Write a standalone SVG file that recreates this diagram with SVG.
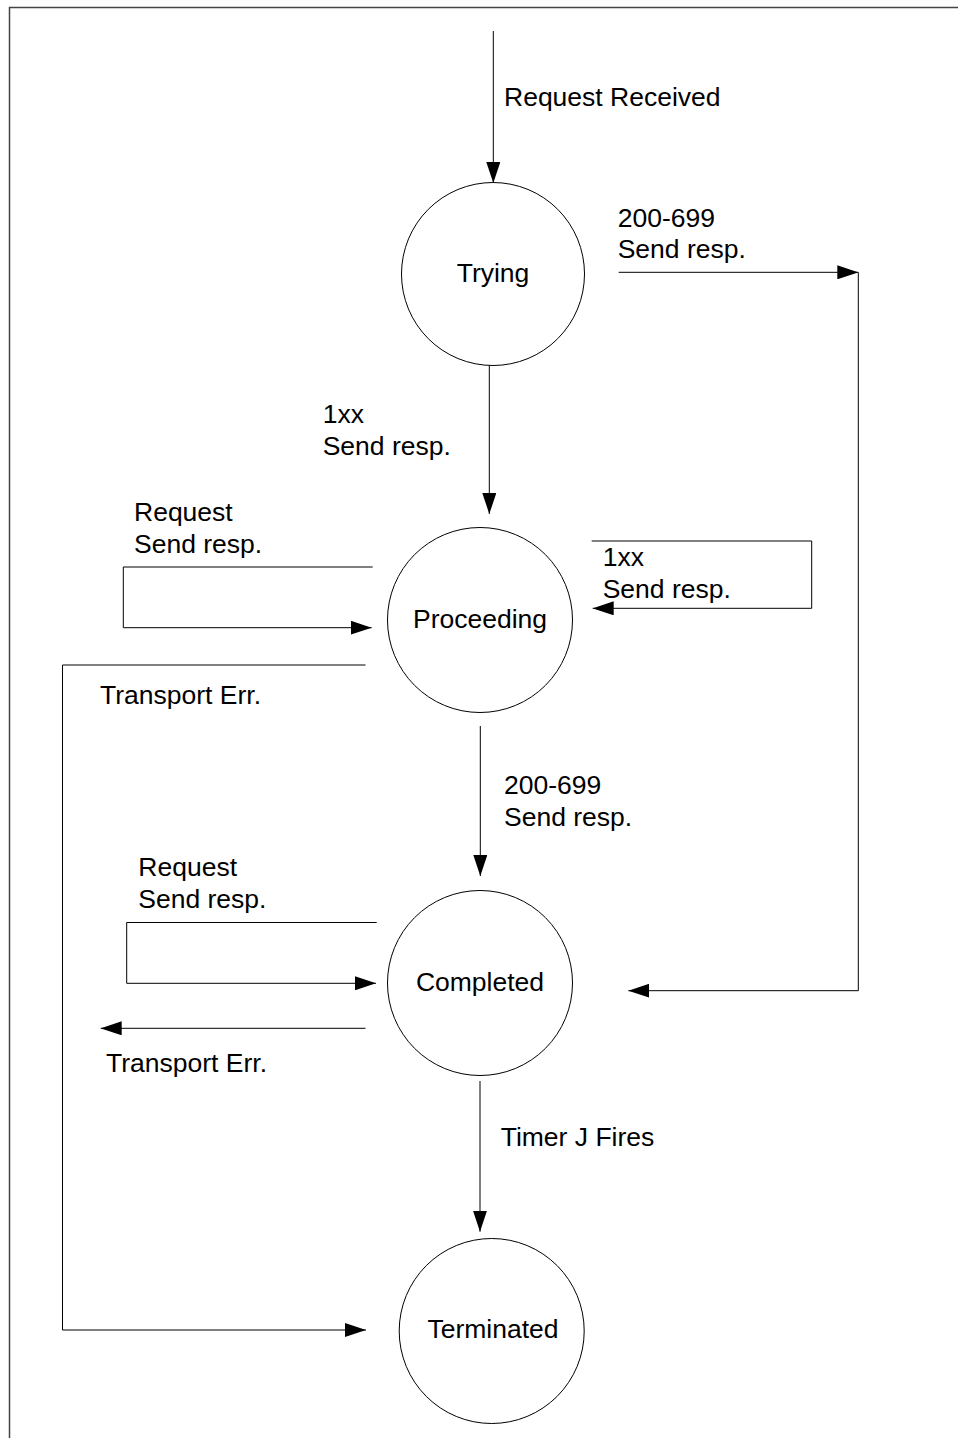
<svg xmlns="http://www.w3.org/2000/svg" width="958" height="1438" viewBox="0 0 958 1438">
  <style>
    .frame { fill: none; stroke: #444; stroke-width: 1.5; }
    .state { fill: #fff; stroke: #000; stroke-width: 1; }
    .edge { fill: none; stroke: #000; stroke-width: 1; }
    .arrow { marker-end: url(#head); }
    text { font-family: "Liberation Sans", Arial, sans-serif; font-size: 26.5px; fill: #000; }
    .name { text-anchor: middle; }
  </style>
  <defs>
    <marker id="head" markerUnits="userSpaceOnUse" markerWidth="21" markerHeight="14" refX="21" refY="7" orient="auto">
      <path d="M0,0 L21,7 L0,14 z" fill="#000"/>
    </marker>
  </defs>

  <rect width="958" height="1438" fill="#fff"/>

  <!-- page border (top and left edges) -->
  <path class="frame" d="M9.5,1438 V7.5 H958"/>

  <!-- state transitions -->
  <g id="connectors">
    <!-- entry -->
    <path class="edge arrow" d="M493.3,31 V183"/>
    <!-- Trying -> Completed (final response) -->
    <path class="edge arrow" d="M618.7,272.3 H858.3"/>
    <path class="edge arrow" d="M858.3,272.3 V990.7 H628.3"/>
    <!-- Trying -> Proceeding -->
    <path class="edge arrow" d="M489.3,365 V514"/>
    <!-- Proceeding self loops -->
    <path class="edge arrow" d="M591.7,541 H811.7 V608.3 H592.7"/>
    <path class="edge arrow" d="M372.7,567 H123.3 V627.7 H371.7"/>
    <!-- Proceeding -> Terminated (transport error) -->
    <path class="edge arrow" d="M365.5,665 H62.5 V1330 H366"/>
    <!-- Proceeding -> Completed -->
    <path class="edge arrow" d="M480.3,726 V876"/>
    <!-- Completed self loop -->
    <path class="edge arrow" d="M376.7,922.5 H126.7 V983.3 H376"/>
    <!-- Completed transport error -->
    <path class="edge arrow" d="M365.5,1028.3 H100.7"/>
    <!-- Completed -> Terminated -->
    <path class="edge arrow" d="M480,1081 V1231.7"/>

    <text x="504" y="106">Request Received</text>
    <text x="617.7" y="226.7">200-699</text>
    <text x="617.7" y="258.3">Send resp.</text>
    <text x="322.7" y="423.3">1xx</text>
    <text x="322.7" y="455">Send resp.</text>
    <text x="134" y="520.7">Request</text>
    <text x="134" y="553.3">Send resp.</text>
    <text x="602.7" y="566">1xx</text>
    <text x="602.7" y="598.3">Send resp.</text>
    <text x="100" y="704">Transport Err.</text>
    <text x="504" y="794">200-699</text>
    <text x="504" y="826">Send resp.</text>
    <text x="138.3" y="876">Request</text>
    <text x="138.3" y="908.3">Send resp.</text>
    <text x="106" y="1071.7">Transport Err.</text>
    <text x="500.7" y="1146">Timer J Fires</text>
  </g>

  <g id="trying">
    <circle class="state" cx="493" cy="274" r="91.5"/>
    <text class="name" x="493" y="282">Trying</text>
  </g>
  <g id="proceeding">
    <circle class="state" cx="480" cy="620" r="92.5"/>
    <text class="name" x="480" y="628.3">Proceeding</text>
  </g>
  <g id="completed">
    <circle class="state" cx="480" cy="983" r="92.5"/>
    <text class="name" x="480" y="990.7">Completed</text>
  </g>
  <g id="terminated">
    <circle class="state" cx="491.7" cy="1331" r="92.5"/>
    <text class="name" x="493" y="1338.3">Terminated</text>
  </g>
</svg>
